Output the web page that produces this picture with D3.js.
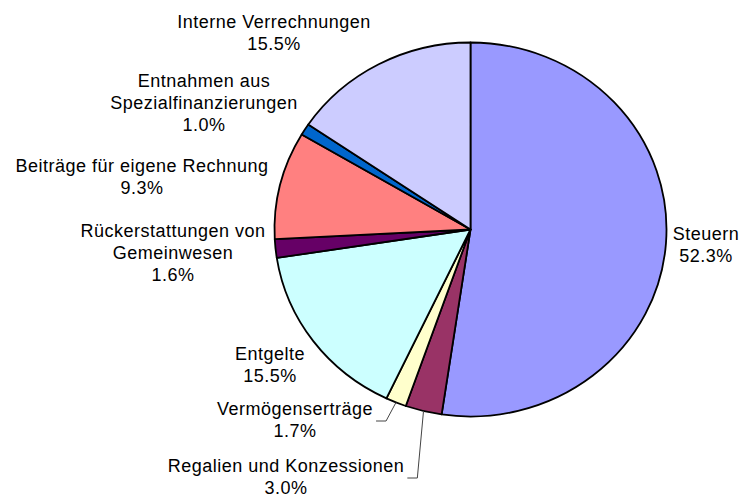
<!DOCTYPE html>
<html lang="en">
<head>
<meta charset="UTF-8">
<title>Pie</title>
<style>
    body { margin: 0; background: #fff; }
    text { font-family: Arial, "Liberation Sans", sans-serif; font-size: 18px; letter-spacing: 0.5px; fill: #000; }
</style>
<script src="https://cdn.jsdelivr.net/npm/d3@7"></script>
</head>
<body>
<svg width="745" height="499"></svg>
<script>
    const categories = ["Steuern", "Regalien und Konzessionen", "Vermögenserträge", "Entgelte",
        "Rückerstattungen von\nGemeinwesen", "Beiträge für eigene Rechnung",
        "Entnahmen aus\nSpezialfinanzierungen", "Interne Verrechnungen"];
    const values = [52.3, 3.0, 1.7, 15.5, 1.6, 9.3, 1.0, 15.5];
    const colors = ["#9999FF", "#993366", "#FFFFCC", "#CCFFFF", "#660066", "#FF8080", "#0066CC", "#CCCCFF"];

    // label layout: [center x, first baseline], and which ones get a leader line
    const labelPos = [[706, 240], [286, 472], [295, 415], [270, 360], [173, 237], [142, 172], [204, 87], [274, 28]];
    const leader = [false, true, true, false, false, false, false, false];

    const cx = 470.5, cy = 229.5, rx = 196, ry = 187;
    const lineH = 22;

    const svg = d3.select("svg");

    const pie = d3.pie().sort(null).value(d => d.value);
    const arcs = pie(categories.map((c, i) => ({name: c, value: values[i], color: colors[i]})));
    const arc = d3.arc().innerRadius(0).outerRadius(rx);

    svg.append("g")
        .attr("transform", `translate(${cx},${cy}) scale(1,${ry / rx})`)
        .selectAll("path")
        .data(arcs)
        .join("path")
        .attr("d", arc)
        .attr("fill", d => d.data.color)
        .attr("stroke", "#000")
        .attr("stroke-width", 1.8)
        .attr("stroke-linejoin", "round")
        .attr("vector-effect", "non-scaling-stroke");

    const labels = svg.append("g")
        .selectAll("text")
        .data(arcs)
        .join("text")
        .attr("text-anchor", "middle")
        .attr("x", (d, i) => labelPos[i][0])
        .attr("y", (d, i) => labelPos[i][1]);

    labels.each(function (d, i) {
        const t = d3.select(this);
        const lines = d.data.name.split("\n").concat([d.data.value.toFixed(1) + "%"]);
        lines.forEach((l, k) => {
            t.append("tspan")
                .attr("x", labelPos[i][0])
                .attr("dy", k === 0 ? 0 : lineH)
                .text(l);
        });
    });

    // leader lines from the label to the slice edge
    labels.each(function (d, i) {
        if (!leader[i]) return;
        const first = this.firstChild.getBBox();
        const a = (d.startAngle + d.endAngle) / 2;
        const ex = cx + rx * Math.sin(a), ey = cy - ry * Math.cos(a);
        const sx = first.x + first.width + 3, sy = labelPos[i][1] + 6;
        svg.append("path")
            .attr("d", `M${sx},${sy}H${sx + 10}L${ex},${ey}`)
            .attr("fill", "none")
            .attr("stroke", "#444")
            .attr("stroke-width", 1);
    });
</script>
</body>
</html>
